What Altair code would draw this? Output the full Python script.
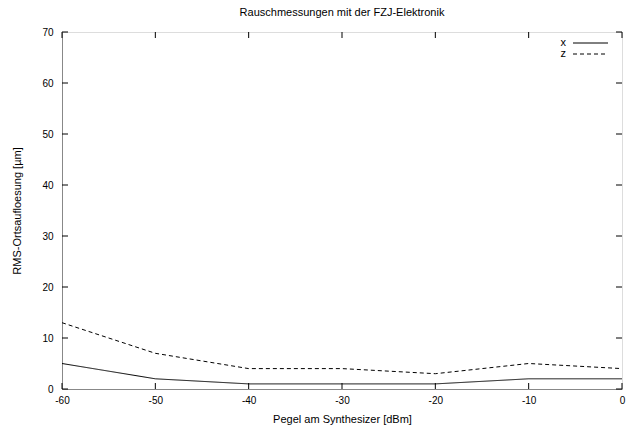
import altair as alt
import pandas as pd

# Noise measurements: RMS position resolution vs. synthesizer level
pegel = [-60, -50, -40, -30, -20, -10, 0]
rms_x = [5, 2, 1, 1, 1, 2, 2]
rms_z = [13, 7, 4, 4, 3, 5, 4]
series = ["x", "z"]
dashes = {"x": [1, 0], "z": [4, 3]}

x_ticks = [-60, -50, -40, -30, -20, -10, 0]
y_ticks = [0, 10, 20, 30, 40, 50, 60, 70]

W, H = 560, 357
FONT = "Liberation Sans"

df = pd.DataFrame(
    {
        "pegel": pegel * 2,
        "rms": rms_x + rms_z,
        "serie": [series[0]] * len(pegel) + [series[1]] * len(pegel),
    }
)

xs = alt.Scale(domain=[-60, 0], nice=False)
ys = alt.Scale(domain=[0, 70], nice=False)

x_enc = alt.X(
    "pegel:Q",
    scale=xs,
    axis=alt.Axis(
        values=x_ticks,
        labelExpr="'' + datum.value",
        title="Pegel am Synthesizer [dBm]",
        titleFontWeight="normal",
        tickSize=0,
        labelPadding=6,
        titlePadding=8,
        labelFlush=False,
        grid=False,
    ),
)
y_enc = alt.Y(
    "rms:Q",
    scale=ys,
    axis=alt.Axis(
        values=y_ticks,
        title="RMS-Ortsaufloesung [µm]",
        titleFontWeight="normal",
        tickSize=0,
        labelPadding=9,
        titlePadding=19,
        labelFlush=False,
        grid=False,
    ),
)

dash_scale = alt.Scale(domain=series, range=[dashes[s] for s in series])

lines = (
    alt.Chart(df)
    .mark_line(color="black", strokeWidth=1)
    .encode(
        x=x_enc,
        y=y_enc,
        strokeDash=alt.StrokeDash("serie:N", scale=dash_scale, legend=None),
    )
)

# inward tick marks on all four sides
xt = pd.DataFrame({"pegel": x_ticks})
yt = pd.DataFrame({"rms": y_ticks})
tick_len = 6
x_bottom = alt.Chart(xt).mark_rule(color="black", strokeWidth=1).encode(
    x=alt.X("pegel:Q", scale=xs), y=alt.value(H), y2=alt.value(H - tick_len)
)
x_top = alt.Chart(xt).mark_rule(color="black", strokeWidth=1).encode(
    x=alt.X("pegel:Q", scale=xs), y=alt.value(0), y2=alt.value(tick_len)
)
y_left = alt.Chart(yt).mark_rule(color="black", strokeWidth=1).encode(
    y=alt.Y("rms:Q", scale=ys), x=alt.value(0), x2=alt.value(tick_len)
)
y_right = alt.Chart(yt).mark_rule(color="black", strokeWidth=1).encode(
    y=alt.Y("rms:Q", scale=ys), x=alt.value(W), x2=alt.value(W - tick_len)
)

# key in the upper right corner: label, then line sample
legend_layers = []
for i, s in enumerate(series):
    row_y = 11 + i * 11
    ld = pd.DataFrame({"serie": [s]})
    legend_layers.append(
        alt.Chart(ld)
        .mark_text(align="right", baseline="middle", font=FONT, fontSize=11, color="black")
        .encode(text="serie:N", x=alt.value(504), y=alt.value(row_y))
    )
    legend_layers.append(
        alt.Chart(ld)
        .mark_rule(color="black", strokeWidth=1, strokeDash=dashes[s])
        .encode(x=alt.value(511), x2=alt.value(546), y=alt.value(row_y))
    )

chart = (
    alt.layer(lines, x_bottom, x_top, y_left, y_right, *legend_layers)
    .properties(
        width=W,
        height=H,
        title=alt.TitleParams(
            "Rauschmessungen mit der FZJ-Elektronik",
            font=FONT,
            fontSize=11,
            fontWeight="normal",
            anchor="middle",
            offset=9,
        ),
        autosize=alt.AutoSizeParams(type="none"),
        padding={"left": 62, "top": 32, "right": 4, "bottom": 46},
    )
    .configure_view(stroke="black", strokeWidth=1)
    .configure_axis(
        labelFont=FONT,
        titleFont=FONT,
        labelFontSize=11,
        titleFontSize=11,
        titleFontWeight="normal",
        labelColor="black",
        titleColor="black",
        domain=False,
    )
    .configure(background="white")
)

chart.save("out.html", embed_options={"renderer": "svg", "actions": False})
